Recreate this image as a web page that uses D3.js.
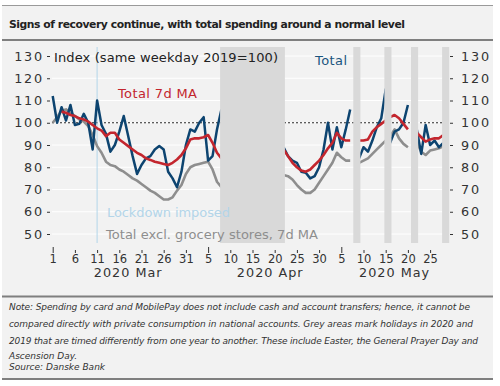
<!DOCTYPE html>
<html>
<head>
<meta charset="utf-8">
<script src="https://cdn.jsdelivr.net/npm/d3@7"></script>
<style>
  html, body { margin: 0; padding: 0; background: #fff; }
  svg { display: block; }
  text { font-family: "DejaVu Sans", sans-serif; }
</style>
</head>
<body>
<svg id="chart" width="500" height="386"></svg>
<script>
/* ============================================================
   Card spending index, same weekday 2019 = 100 (daily from 1 Mar 2020)
   ============================================================ */
const START = '2020-03-01';

// null = day hidden by a holiday band
const total = [
  112, 100, 107, 101, 108, 99, 99.5, 104, 100, 88,
  110, 99, 95, 87, 90, 96, 103, 94, 85, 77,
  81, 84, 85, 88, 89.5, 88, 78, 75, 71, 78,
  90, 97, 96, 100, 102.5, 83, 85, 97, 106, null,
  null, null, null, null, null, null, null, null, null, null,
  null, null, 89, 85, 83, 82, 78, 77.5, 75, 76,
  80, 88, 100, 88, 98, 89, 97, 106, null, 84,
  89, 87, 92, 98, 102, 115, 91, 96, 97, 100,
  108, null, 97, 86, 99, 90, 92, 89, 91
];
const total7d = [
  null, null, 105, 104.5, 103.5, 103, 102, 101.5, 100.5, 99,
  97.5, 96.5, 94, 95.5, 95.5, 92.5, 91, 89.5, 88, 86.5,
  85.5, 84, 83.3, 82.5, 82, 81.5, 81, 82, 83.5, 85.5,
  88.5, 92.5, 93, 93, 93.5, 94.5, 91, 86.5, 84, null,
  null, null, null, null, null, null, null, null, null, null,
  null, null, 88, 85, 82, 80, 78.5, 78, 79, 81,
  83, 85.5, 88.5, 91, 95.5, 93, 92, 92, null, 92,
  92, 92.5, 96, 98, 99.5, 101, 102.5, 103.5, 102, 99.5,
  97, null, 95.5, 93.5, 91.5, 92.5, 93, 93, 94.5
];
const exGrocery7d = [
  100, 102.5, 105.5, 106, 104.5, 103, 101.5, 100.5, 98.5, 94.5,
  89.5, 86.5, 82.5, 81, 80.5, 79, 78, 76.5, 75, 74,
  72.5, 71, 69.5, 68.5, 67, 65.5, 65.5, 66.5, 69.5, 72,
  77, 80, 81, 81.5, 82, 82.5, 79, 73.5, 71, null,
  null, null, null, null, null, null, null, null, null, null,
  null, null, 76.5, 76, 74.5, 72, 70, 68.5, 68.5, 70,
  73, 76, 79, 82, 86.5, 84.5, 83, 83, null, 82,
  83, 84, 86, 88, 90, 92, 94, 97, 93, 90.5,
  89, null, 91, 87, 85.5, 87.5, 88, 88.5, 89.5
];

// grey areas: first and last day of each holiday period
const holidayStart = ['2020-04-08', '2020-05-08', '2020-05-15', '2020-05-21', '2020-05-28'];
const holidayEnd   = ['2020-04-21', '2020-05-08', '2020-05-15', '2020-05-21', '2020-05-28'];

const lockdownDate = '2020-03-11';

const tickDates = ['2020-03-01','2020-03-06','2020-03-11','2020-03-16','2020-03-21','2020-03-26','2020-03-31',
  '2020-04-05','2020-04-10','2020-04-15','2020-04-20','2020-04-25','2020-04-30',
  '2020-05-05','2020-05-10','2020-05-15','2020-05-20','2020-05-25'];
const tickLabels = ['1','6','11','16','21','26','31','5','10','15','20','25','30','5','10','15','20','25'];
const monthFirstTicks = ['2020-03-01', '2020-04-05', '2020-05-05'];
const monthLabels = ['2020 Mar', '2020 Apr', '2020 May'];
const monthCentres = ['2020-03-18', '2020-04-19', '2020-05-17'];
const yTicks = [50, 60, 70, 80, 90, 100, 110, 120, 130];

const noteLines = [
  'Note: Spending by card and MobilePay does not include cash and account transfers; hence, it cannot be',
  'compared directly with private consumption in national accounts.  Grey areas mark holidays in 2020 and',
  '2019 that are timed differently from one year to another. These include Easter, the General Prayer Day and',
  'Ascension Day.',
  'Source: Danske Bank'
];

const C = { blue: '#0d4470', red: '#c3262e', grey: '#8e8e8e', band: '#d9d9d9', bg: '#f2f2f2', lock: '#b3d5e9' };

const parse = d3.utcParse('%Y-%m-%d');
const day0 = parse(START);
const days = total.map((_, i) => d3.utcDay.offset(day0, i));

const svg = d3.select('#chart');

// ---- panel frame ----
svg.append('rect').attr('x', 2).attr('y', 5).attr('width', 491).attr('height', 374).attr('fill', C.bg);
svg.append('line').attr('x1', 2).attr('x2', 493).attr('y1', 5.5).attr('y2', 5.5).attr('stroke', '#9a9a9a').attr('stroke-width', 1);
[[40, 2], [296.5, 2], [379, 2]].forEach(([y, w]) =>
  svg.append('line').attr('x1', 2).attr('x2', 493).attr('y1', y).attr('y2', y).attr('stroke', '#7f7f7f').attr('stroke-width', w));

svg.append('text').attr('x', 9).attr('y', 27.5)
  .attr('font-family', 'Liberation Sans, Arial, sans-serif').attr('font-weight', 'bold')
  .attr('font-size', '10.8px').attr('fill', '#222')
  .attr('textLength', 396).attr('lengthAdjust', 'spacing')
  .text('Signs of recovery continue, with total spending around a normal level');

// ---- scales ----
const x = d3.scaleUtc().domain([day0, parse('2020-05-30')]).range([52.7, 452.3]);
const y = d3.scaleLinear().domain([50, 130]).range([234, 56]);
const plotL = 52, plotR = 449, plotT = 47, plotB = 243;
const dayW = x(d3.utcDay.offset(day0, 1)) - x(day0);

// grid
svg.append('g').selectAll('line').data(yTicks).enter().append('line')
  .attr('x1', plotL).attr('x2', plotR).attr('y1', d => y(d)).attr('y2', d => y(d))
  .attr('stroke', '#fff').attr('stroke-width', 1);

svg.append('line').attr('x1', plotL).attr('x2', plotR).attr('y1', y(100)).attr('y2', y(100))
  .attr('stroke', '#111').attr('stroke-width', 0.9).attr('stroke-dasharray', '2,2');

svg.append('line').attr('x1', x(parse(lockdownDate))).attr('x2', x(parse(lockdownDate)))
  .attr('y1', plotT).attr('y2', plotB).attr('stroke', C.lock).attr('stroke-width', 1);

// ---- series ----
const line = d3.line().defined(d => d[1] != null).x(d => x(d[0])).y(d => y(d[1]));
[[exGrocery7d, C.grey, 2.6], [total, C.blue, 2.5], [total7d, C.red, 2.6]].forEach(([vals, col, w]) => {
  svg.append('path').datum(days.map((d, i) => [d, vals[i]]))
    .attr('d', line).attr('fill', 'none').attr('stroke', col).attr('stroke-width', w)
    .attr('stroke-linejoin', 'round');
});

// holiday bands sit on top of the lines
svg.append('g').selectAll('rect').data(holidayStart).enter().append('rect')
  .attr('x', d => x(parse(d)) - 0.3 * dayW)
  .attr('width', (d, i) => x(parse(holidayEnd[i])) + 1.3 * dayW - (x(parse(d)) - 0.3 * dayW))
  .attr('y', plotT).attr('height', plotB - plotT).attr('fill', C.band);

// ---- axes ----
const styleAxis = g => {
  g.select('.domain').remove();
  g.selectAll('line').attr('stroke', '#333');
  g.selectAll('text').attr('font-family', 'DejaVu Sans, sans-serif').attr('font-size', '12.8px')
    .attr('fill', '#333').attr('letter-spacing', '1.8px');
};
svg.append('g').attr('transform', 'translate(50,0)')
  .call(d3.axisLeft(y).tickValues(yTicks).tickSize(3).tickPadding(3)).call(styleAxis);
svg.append('g').attr('transform', 'translate(450,0)')
  .call(d3.axisRight(y).tickValues(yTicks).tickSize(3).tickPadding(8)).call(styleAxis);

const xAxis = svg.append('g').attr('transform', 'translate(0,253)')
  .call(d3.axisBottom(x).tickValues(tickDates.map(parse)).tickSize(-3).tickPadding(2)
    .tickFormat((d, i) => tickLabels[i]))
  .call(styleAxis);
xAxis.selectAll('text').attr('font-size', '11.5px').attr('letter-spacing', '0px');
xAxis.selectAll('.tick line').filter(d => monthFirstTicks.includes(d3.utcFormat('%Y-%m-%d')(d))).attr('y2', -6);

svg.append('g').selectAll('text').data(monthLabels).enter().append('text')
  .attr('x', (d, i) => x(parse(monthCentres[i]))).attr('y', 277)
  .attr('text-anchor', 'middle').attr('font-size', '12.8px').attr('letter-spacing', '1px')
  .attr('fill', '#333').text(d => d);

// ---- in-chart labels ----
const label = (txt, lx, ly, col, len) =>
  svg.append('text').attr('x', lx).attr('y', ly).attr('font-size', '13px').attr('fill', col)
    .attr('textLength', len).attr('lengthAdjust', 'spacing').text(txt);
label('Index (same weekday 2019=100)', 54, 61.5, '#222', 224);
label('Total', 315, 65, '#1b557f', 32);
label('Total 7d MA', 118, 98, C.red, 79);
label('Lockdown imposed', 107, 217, C.lock, 123);
label('Total excl. grocery stores, 7d MA', 106, 239, C.grey, 212);

// ---- note ----
const noteY = [310, 327, 343.5, 358.5, 369.5];
const noteLen = [461, 464, 469, null, null];
noteLines.forEach((t, i) => {
  const el = svg.append('text').attr('x', 9).attr('y', noteY[i])
    .attr('font-family', 'Liberation Sans, Arial, sans-serif').attr('font-style', 'italic')
    .attr('font-size', '9px').attr('fill', '#333').text(t);
  if (noteLen[i]) el.attr('textLength', noteLen[i]).attr('lengthAdjust', 'spacing');
});
</script>
</body>
</html>
